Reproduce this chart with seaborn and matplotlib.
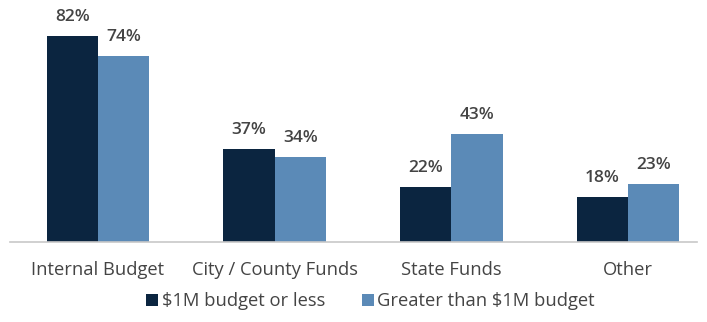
import matplotlib
matplotlib.use("Agg")
import matplotlib.pyplot as plt
import seaborn as sns
import pandas as pd

categories = ["Internal Budget", "City / County Funds", "State Funds", "Other"]
series_names = ["$1M budget or less", "Greater than $1M budget"]
small_budget = [82, 37, 22, 18]
large_budget = [74, 34, 43, 23]

colors = ["#0b2540", "#5b8ab7"]
text_color = "#444444"

df = pd.DataFrame({
    "Category": categories * 2,
    "Series": [series_names[0]] * 4 + [series_names[1]] * 4,
    "Value": small_budget + large_budget,
})

sns.set_theme(style="white")
plt.rcParams["font.family"] = ["Open Sans", "DejaVu Sans"]

fig = plt.figure(figsize=(7.07, 3.22), dpi=100)
ax = fig.add_axes([9.5 / 707, 80 / 322, (697 - 9.5) / 707, 242 / 322])

sns.barplot(data=df, x="Category", y="Value", hue="Series",
            palette=colors, width=0.58, saturation=1, linewidth=0,
            ax=ax, legend=True)

for container in ax.containers:
    ax.bar_label(container, labels=[f"{v:.0f}%" for v in container.datavalues],
                 padding=8, fontsize=12.5, color=text_color, fontweight="semibold")

ax.set_xlim(-0.5, 3.39)
ax.set_ylim(0, 96.4)
ax.set_xlabel("")
ax.set_ylabel("")
ax.set_yticks([])
ax.tick_params(axis="x", length=0, pad=14, labelsize=13.2, colors=text_color)
for side in ["top", "right", "left"]:
    ax.spines[side].set_visible(False)
ax.spines["bottom"].set_color("#c8c8c8")
ax.spines["bottom"].set_linewidth(1.2)

handles, labels = ax.get_legend_handles_labels()
ax.legend(handles, labels, loc="upper center", bbox_to_anchor=(0.525, -0.14),
          ncol=2, frameon=False, fontsize=13.2, handlelength=0.65,
          handleheight=0.65, handletextpad=0.2, columnspacing=2.0,
          labelcolor=text_color)

fig.savefig("out.png", dpi=100)
